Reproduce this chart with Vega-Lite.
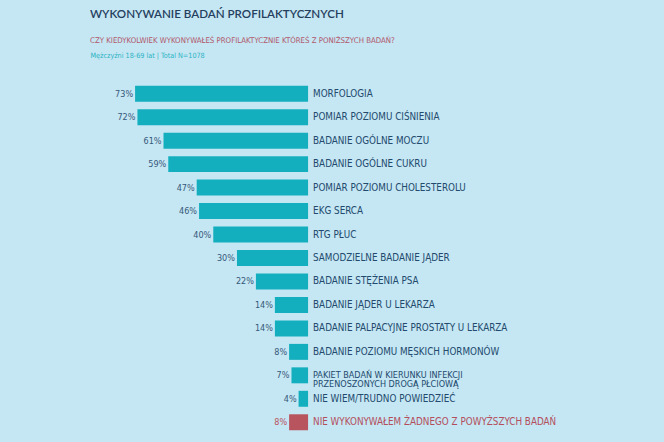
{
  "$schema": "https://vega.github.io/schema/vega-lite/v6.json",
  "width": 664,
  "height": 352,
  "autosize": {"type": "none"},
  "padding": {"top": 82, "left": 0, "right": 0, "bottom": 8},
  "background": "#c5e6f3",
  "config": {"view": {"stroke": null}},
  "title": {
    "text": "WYKONYWANIE BADAŃ PROFILAKTYCZNYCH",
    "subtitle": "CZY KIEDYKOLWIEK WYKONYWAŁEŚ PROFILAKTYCZNIE KTÓREŚ Z PONIŻSZYCH BADAŃ?",
    "anchor": "start",
    "frame": "group",
    "dx": 90,
    "offset": 6,
    "font": "Lato",
    "fontSize": 11.6,
    "fontWeight": 600,
    "color": "#243f5e",
    "subtitleFont": "Liberation Sans Narrow, DejaVu Sans Condensed, Roboto",
    "subtitleFontSize": 7.8,
    "subtitleFontWeight": 500,
    "subtitleColor": "#b0566a",
    "subtitlePadding": 17
  },
  "data": {
    "values": [
      {"cat": "MORFOLOGIA", "pct": 0.73, "grp": "tak"},
      {"cat": "POMIAR POZIOMU CIŚNIENIA", "pct": 0.72, "grp": "tak"},
      {"cat": "BADANIE OGÓLNE MOCZU", "pct": 0.61, "grp": "tak"},
      {"cat": "BADANIE OGÓLNE CUKRU", "pct": 0.59, "grp": "tak"},
      {"cat": "POMIAR POZIOMU CHOLESTEROLU", "pct": 0.47, "grp": "tak"},
      {"cat": "EKG SERCA", "pct": 0.46, "grp": "tak"},
      {"cat": "RTG PŁUC", "pct": 0.40, "grp": "tak"},
      {"cat": "SAMODZIELNE BADANIE JĄDER", "pct": 0.30, "grp": "tak"},
      {"cat": "BADANIE STĘŻENIA PSA", "pct": 0.22, "grp": "tak"},
      {"cat": "BADANIE JĄDER U LEKARZA", "pct": 0.14, "grp": "tak"},
      {"cat": "BADANIE PALPACYJNE PROSTATY U LEKARZA", "pct": 0.14, "grp": "tak"},
      {"cat": "BADANIE POZIOMU MĘSKICH HORMONÓW", "pct": 0.08, "grp": "tak"},
      {"cat": "PAKIET BADAŃ W KIERUNKU INFEKCJI\nPRZENOSZONYCH DROGĄ PŁCIOWĄ", "pct": 0.07, "grp": "tak", "multi": true},
      {"cat": "NIE WIEM/TRUDNO POWIEDZIEĆ", "pct": 0.04, "grp": "tak"},
      {"cat": "NIE WYKONYWAŁEM ŻADNEGO Z POWYŻSZYCH BADAŃ", "pct": 0.08, "grp": "nie"}
    ]
  },
  "encoding": {
    "y": {
      "field": "cat",
      "type": "nominal",
      "sort": null,
      "scale": {"paddingInner": 0.32, "paddingOuter": 0.16},
      "axis": null
    }
  },
  "layer": [
    {
      "mark": {"type": "bar"},
      "encoding": {
        "x": {
          "field": "pct",
          "type": "quantitative",
          "scale": {"domain": [-1.502, 1.30], "reverse": true, "nice": false, "zero": false},
          "axis": {
            "orient": "top",
            "labels": false,
            "ticks": false,
            "domain": false,
            "grid": false,
            "title": "Mężczyźni 18-69 lat | Total N=1078",
            "titleX": 90,
            "titleY": -27,
            "titleAlign": "left",
            "titleAnchor": "start",
            "titleBaseline": "middle",
            "titleColor": "#2ab4c4",
            "titleFont": "Liberation Sans Narrow, DejaVu Sans Condensed, Roboto",
            "titleFontSize": 7.2,
            "titleFontWeight": 500
          }
        },
        "x2": {"datum": 0},
        "color": {
          "field": "grp",
          "type": "nominal",
          "scale": {"domain": ["tak", "nie"], "range": ["#14afbe", "#b8545e"]},
          "legend": null
        }
      }
    },
    {
      "mark": {
        "type": "text",
        "align": "right",
        "baseline": "middle",
        "dx": -2,
        "font": "Liberation Sans Narrow, DejaVu Sans Condensed, Roboto",
        "fontSize": 9
      },
      "encoding": {
        "x": {"field": "pct", "type": "quantitative"},
        "text": {"field": "pct", "type": "quantitative", "format": ".0%"},
        "color": {
          "field": "grp",
          "type": "nominal",
          "scale": {"domain": ["tak", "nie"], "range": ["#35597a", "#b8545e"]},
          "legend": null
        }
      }
    },
    {
      "transform": [{"filter": "!datum.multi"}],
      "mark": {
        "type": "text",
        "align": "left",
        "baseline": "middle",
        "dx": 5,
        "font": "Liberation Sans Narrow, DejaVu Sans Condensed, Roboto",
        "fontSize": 9.8,
        "fontWeight": 500
      },
      "encoding": {
        "x": {"datum": 0},
        "text": {"field": "cat", "type": "nominal"},
        "color": {
          "field": "grp",
          "type": "nominal",
          "scale": {"domain": ["tak", "nie"], "range": ["#224a6d", "#b34f5b"]},
          "legend": null
        }
      }
    },
    {
      "transform": [{"filter": "datum.multi"}],
      "mark": {
        "type": "text",
        "align": "left",
        "baseline": "middle",
        "dx": 5,
        "lineBreak": "\n",
        "lineHeight": 9,
        "font": "Liberation Sans Narrow, DejaVu Sans Condensed, Roboto",
        "fontSize": 9,
        "fontWeight": 500,
        "color": "#224a6d"
      },
      "encoding": {
        "x": {"datum": 0},
        "text": {"field": "cat", "type": "nominal"}
      }
    }
  ],
  "resolve": {"scale": {"color": "independent"}}
}
